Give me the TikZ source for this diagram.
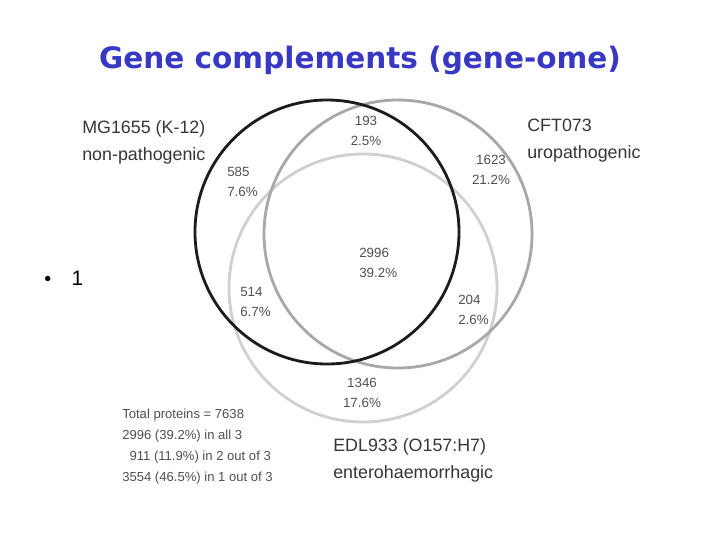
\documentclass[tikz,border=0pt]{standalone}
\usepackage{fontspec}
\setmainfont{Liberation Sans}
\newfontfamily\titlefont{DejaVu Sans}
\usetikzlibrary{positioning}

\definecolor{titleblue}{RGB}{56,56,196}
\definecolor{labelgray}{RGB}{55,55,55}
\definecolor{sharegray}{RGB}{80,80,80}
\definecolor{ringblack}{RGB}{28,28,28}
\definecolor{ringmid}{RGB}{168,168,168}
\definecolor{ringlight}{RGB}{208,208,208}

\begin{document}
\begin{tikzpicture}[
    x=0.025cm, y=-0.025cm,
    every node/.style={inner sep=0pt},
    heading/.style={font=\titlefont\bfseries\fontsize{21}{25}\selectfont, text=titleblue},
    strain/.style={font=\fontsize{12.7}{19.2}\selectfont, text=labelgray, align=left, anchor=west},
    share/.style={font=\fontsize{9.5}{14.2}\selectfont, text=sharegray},
    tally/.style={font=\fontsize{9.3}{14.9}\selectfont, text=sharegray, align=left, anchor=west},
    ring/.style={line width=2pt}
]
\useasboundingbox[fill=white] (0,0) rectangle (720,540);

\node[heading, anchor=base] (title) at (360,68) {Gene complements (gene-ome)};

% the three genomes
\draw[ring, draw=ringlight] (363,288) circle (134);
\draw[ring, draw=ringmid] (398,234) circle (134);
\draw[ring, draw=ringblack] (327,232) circle (132);

\node[strain] (mg) at (82,142) {MG1655 (K-12)\\non-pathogenic};
\node[strain] (cft) at (527,141) {CFT073\\uropathogenic};
\node[strain] (edl) at (333,460) {EDL933 (O157:H7)\\enterohaemorrhagic};

% region counts
\node[share, align=center] (top) at (366,131) {193\\2.5\%};
\node[share, align=left, anchor=west] (mgonly) at (227,182) {585\\7.6\%};
\node[share, align=center] (cftonly) at (491,170) {1623\\21.2\%};
\node[share, align=left, anchor=west] (core) at (359,263) {2996\\39.2\%};
\node[share, align=left, anchor=west] (mgedl) at (240,302) {514\\6.7\%};
\node[share, align=left, anchor=west] (cftedl) at (458,310) {204\\2.6\%};
\node[share, align=center] (edlonly) at (362,393) {1346\\17.6\%};

\node[tally] (total) at (122,447) {Total proteins = 7638\\2996 (39.2\%) in all 3\\\hphantom{0}911 (11.9\%) in 2 out of 3\\3554 (46.5\%) in 1 out of 3};

\node[anchor=base west, font=\fontsize{14.9}{18}\selectfont] (item) at (44,285) {{\fontsize{14}{16}\selectfont\textbullet}\hspace{14.5pt}1};
\end{tikzpicture}
\end{document}
